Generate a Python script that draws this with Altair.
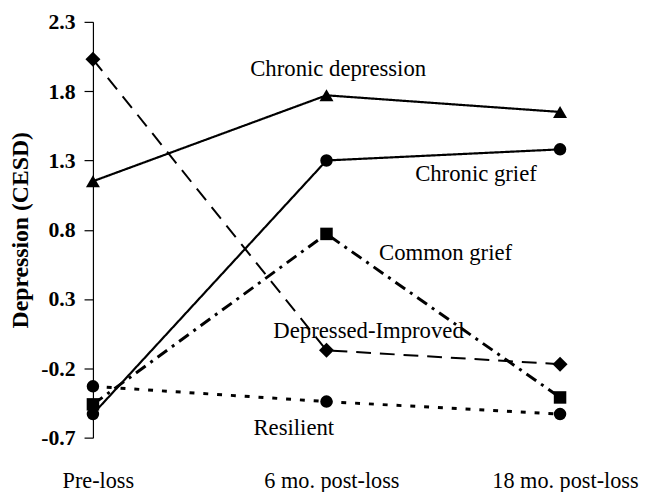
import altair as alt
import pandas as pd

# ---- data ----
time_points = ["Pre-loss", "6 mo. post-loss", "18 mo. post-loss"]
series_names = ["Chronic depression", "Chronic grief", "Common grief",
                "Depressed-Improved", "Resilient"]
chronic_depression = [1.15, 1.77, 1.65]
chronic_grief = [-0.53, 1.30, 1.38]
common_grief = [-0.46, 0.77, -0.41]
depressed_improved = [2.03, -0.07, -0.17]
resilient = [-0.33, -0.44, -0.53]
y_ticks = [-0.7, -0.2, 0.3, 0.8, 1.3, 1.8, 2.3]

# annotation anchors (data units: x = time index, y = CESD)
label_x = [1.05, 1.64, 1.51, 1.18, 0.86]
label_y = [1.96, 1.20, 0.63, 0.07, -0.63]

values = [chronic_depression, chronic_grief, common_grief,
          depressed_improved, resilient]
shapes = ["triangle-up", "circle", "square", "diamond", "circle"]
dashes = [[1, 0], [1, 0], [12, 6, 3, 6], [15, 9], [5, 9]]
widths = [2.2, 2.2, 3, 2, 3]
sizes = [200, 160, 160, 230, 160]

rows = []
for name, vals in zip(series_names, values):
    for i, v in enumerate(vals):
        rows.append({"series": name, "t": i, "value": v})
df = pd.DataFrame(rows)

x_scale = alt.Scale(domain=[0, 2], nice=False, zero=False)
y_scale = alt.Scale(domain=[-0.7, 2.3], nice=False, zero=False)

label_expr = ("datum.value == 0 ? 'Pre-loss' : datum.value == 1 ? "
              "'6 mo. post-loss' : '18 mo. post-loss'")

x_axis = alt.Axis(values=[0, 1, 2], labelExpr=label_expr, domain=False,
                  ticks=False, grid=False, title=None, labelFont="Liberation Serif",
                  labelFontSize=22.5, labelColor="black", labelPadding=32,
                  labelOffset=5, labelFlush=False)
y_axis = alt.Axis(values=y_ticks, grid=False, domainColor="black",
                  domainWidth=1.2, tickColor="black", tickSize=9, tickWidth=1.2,
                  labelExpr="datum.value < 0 ? '-' + format(-datum.value, '.1f') : format(datum.value, '.1f')",
                  labelFont="Liberation Serif", labelFontSize=22,
                  labelFontWeight="bold", labelColor="black", labelPadding=9,
                  title="Depression (CESD)", titleFont="Liberation Serif",
                  titleFontSize=24, titleFontWeight="bold", titleColor="black",
                  titlePadding=8)

X = alt.X("t:Q", scale=x_scale, axis=x_axis)
Y = alt.Y("value:Q", scale=y_scale, axis=y_axis)

layers = []
for k, name in enumerate(series_names):
    sub = df[df["series"] == name]
    line = alt.Chart(sub).mark_line(color="black", strokeDash=dashes[k],
                                    strokeWidth=widths[k]).encode(x=X, y=Y)
    layers.append(line)

for k, name in enumerate(series_names):
    sub = df[df["series"] == name]
    pts = alt.Chart(sub).mark_point(shape=shapes[k], filled=True, color="black",
                                    opacity=1, size=sizes[k]).encode(x=X, y=Y)
    layers.append(pts)

labels_df = pd.DataFrame({"label": series_names, "lx": label_x, "ly": label_y})
text = alt.Chart(labels_df).mark_text(font="Liberation Serif", fontSize=23,
                                      color="black", align="center",
                                      baseline="middle").encode(
    x=alt.X("lx:Q", scale=x_scale, axis=x_axis),
    y=alt.Y("ly:Q", scale=y_scale, axis=y_axis),
    text="label:N",
)
layers.append(text)

chart = alt.layer(*layers).properties(
    width=473, height=421,
    autosize=alt.AutoSizeParams(type="none"),
    padding={"left": 86, "top": 11, "right": 85, "bottom": 52},
    background="white",
).configure_view(stroke=None)

chart.save("out.html", embed_options={"renderer": "svg", "actions": False})
